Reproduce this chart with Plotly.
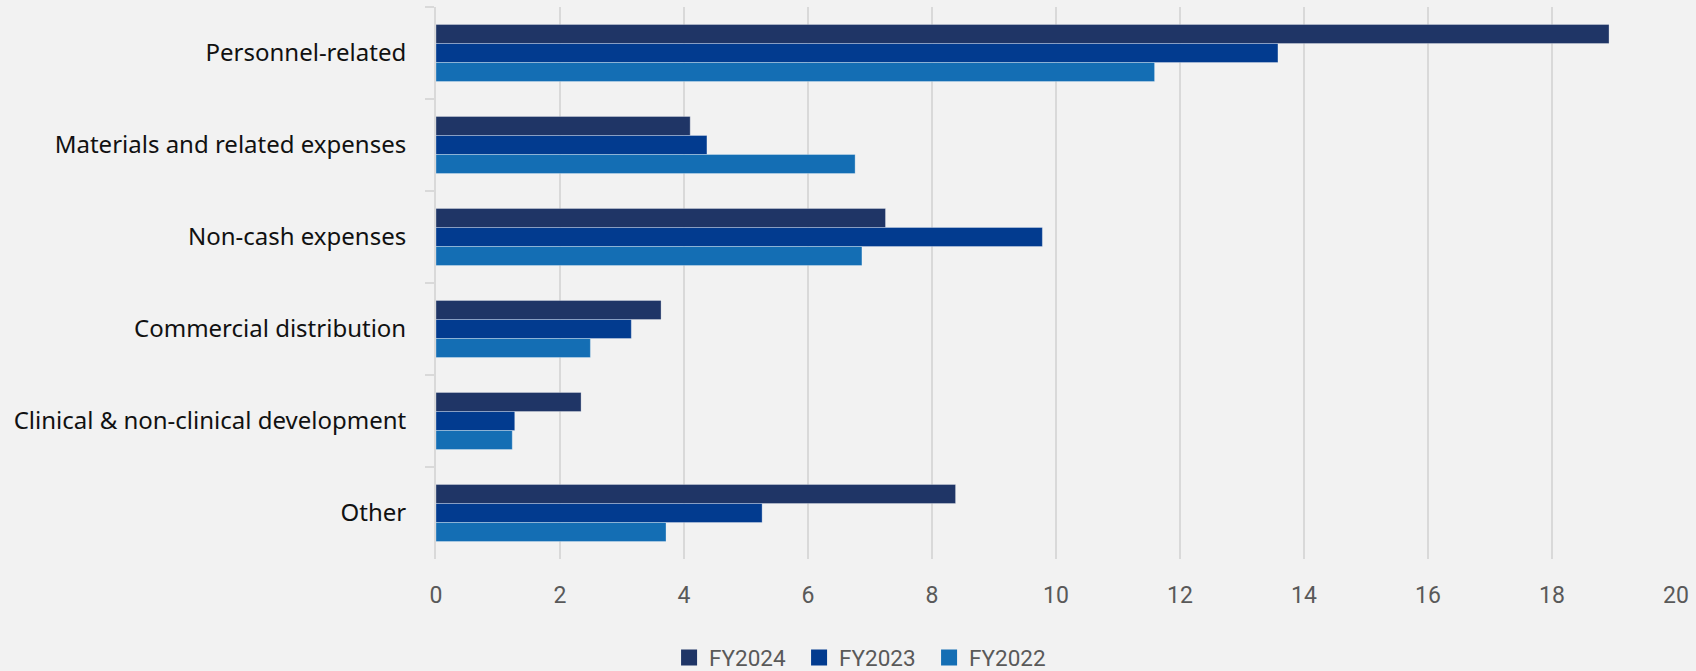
import plotly.graph_objects as go

# Expense categories, top to bottom
categories = [
    "Personnel-related",
    "Materials and related expenses",
    "Non-cash expenses",
    "Commercial distribution",
    "Clinical & non-clinical development",
    "Other",
]

# Values per fiscal year
fy2024 = [18.92, 4.10, 7.25, 3.63, 2.34, 8.38]
fy2023 = [13.58, 4.37, 9.78, 3.15, 1.27, 5.26]
fy2022 = [11.59, 6.76, 6.87, 2.49, 1.23, 3.71]

series = [
    ("FY2024", fy2024, "#1f3566"),
    ("FY2023", fy2023, "#023b8f"),
    ("FY2022", fy2022, "#146eb4"),
]

x_ticks = list(range(0, 21, 2))

fig = go.Figure()

for name, vals, color in series:
    fig.add_trace(go.Bar(
        y=categories,
        x=vals,
        name=name,
        orientation="h",
        marker=dict(color=color, line=dict(color="rgba(255,255,255,0.3)", width=1)),
        showlegend=False,
        hoverinfo="skip",
    ))

# Legend entries with larger square swatches
for name, vals, color in series:
    fig.add_trace(go.Scatter(
        x=[None], y=[None], mode="markers", name=name,
        marker=dict(symbol="square", size=18, color=color),
        showlegend=True,
    ))

fig.update_layout(
    width=1696,
    height=671,
    margin=dict(l=436, r=18, t=7, b=112),
    paper_bgcolor="#f2f2f2",
    plot_bgcolor="#f2f2f2",
    barmode="group",
    bargap=0.38,
    bargroupgap=0,
    font=dict(family="Roboto", size=22, color="#595959"),
    legend=dict(
        orientation="h",
        xref="container",
        yref="container",
        x=0.3945,
        xanchor="left",
        y=0.0194,
        yanchor="middle",
        font=dict(family="Roboto", size=22.5, color="#595959"),
        bgcolor="rgba(0,0,0,0)",
        entrywidth=85,
        entrywidthmode="pixels",
    ),
    xaxis=dict(
        range=[0, 20],
        tickvals=x_ticks,
        showgrid=True,
        gridcolor="#d9d9d9",
        gridwidth=2,
        zeroline=False,
        showline=False,
        ticks="",
        ticklabelstandoff=20,
        tickfont=dict(family="Roboto", size=23, color="#595959"),
    ),
    yaxis=dict(
        categoryorder="array",
        categoryarray=categories,
        autorange="reversed",
        showline=True,
        linecolor="#d9d9d9",
        linewidth=2,
        ticks="outside",
        ticklen=9,
        tickwidth=2,
        tickcolor="#d9d9d9",
        tickson="boundaries",
        showgrid=False,
        ticklabelstandoff=23,
        tickfont=dict(family="Noto Sans", size=24, color="#111111"),
    ),
)

fig.write_html("out.html")
